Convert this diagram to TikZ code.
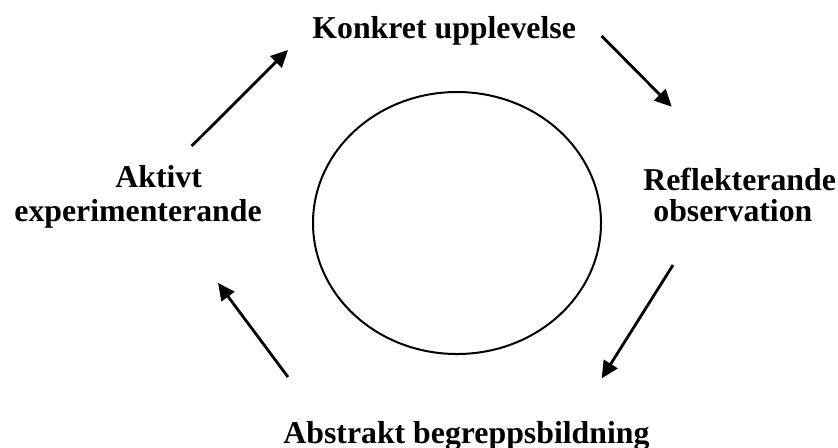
\documentclass[tikz,border=0pt]{standalone}
\usepackage{fontspec}
\setmainfont{Liberation Serif}
\usetikzlibrary{arrows.meta}

\begin{document}
\begin{tikzpicture}[x=0.5pt,y=-0.5pt,
  lbl/.style={anchor=base west,inner sep=0pt,font=\fontsize{15.9pt}{16pt}\selectfont\bfseries},
  cyc/.style={-{Triangle[length=8.5pt,width=8pt]},line width=1.4pt}]
  \useasboundingbox (0,0) rectangle (838,447);
  % the cycle in the middle
  \draw[line width=1pt] (457,223) ellipse (72pt and 65.5pt);
  % the four stages
  \node[lbl] (konkret) at (312,38) {Konkret upplevelse};
  \node[lbl] (reflekt) at (643,190.5) {Reflekterande};
  \node[lbl] (observ) at (653,221.5) {observation};
  \node[lbl] (abstrakt) at (283,443) {Abstrakt begreppsbildning};
  \node[lbl] (aktivt) at (115,187) {Aktivt};
  \node[lbl] (experim) at (14,221.5) {experimenterande};
  % arrow ends
  \coordinate (a1) at (191.7,146);  \coordinate (a2) at (288,50);
  \coordinate (b1) at (601.7,36);   \coordinate (b2) at (671.7,106.7);
  \coordinate (c1) at (673,265);    \coordinate (c2) at (601.7,378.3);
  \coordinate (d1) at (288,377);    \coordinate (d2) at (218,283);
  \draw[cyc] (a1) -- (a2);
  \draw[cyc] (b1) -- (b2);
  \draw[cyc] (c1) -- (c2);
  \draw[cyc] (d1) -- (d2);
\end{tikzpicture}
\end{document}
